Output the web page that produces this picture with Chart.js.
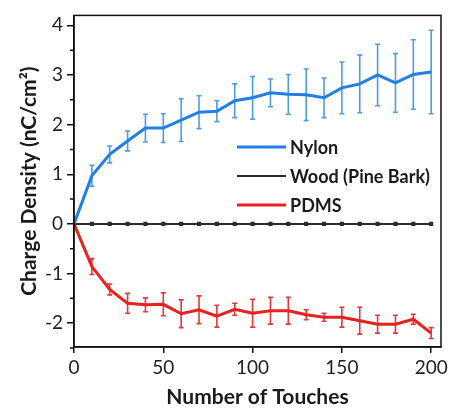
<!DOCTYPE html>
<html>
<head>
<meta charset="utf-8">
<script src="https://cdn.jsdelivr.net/npm/chart.js@4.4.0/dist/chart.umd.min.js"></script>
<style>
  body { margin: 0; background: #fff; }
  canvas { display: block; }
</style>
</head>
<body>
<canvas id="chargeChart" width="452" height="414"></canvas>
<script>
// DATA
const touches = [0, 10, 20, 30, 40, 50, 60, 70, 80, 90, 100, 110, 120, 130, 140, 150, 160, 170, 180, 190, 200];
const nylon = [0, 0.97, 1.40, 1.67, 1.93, 1.93, 2.09, 2.25, 2.27, 2.48, 2.54, 2.64, 2.61, 2.60, 2.54, 2.74, 2.82, 3.00, 2.84, 3.01, 3.06];
const nylonErr = [0, 0.21, 0.17, 0.20, 0.28, 0.29, 0.43, 0.33, 0.21, 0.34, 0.43, 0.28, 0.40, 0.52, 0.40, 0.52, 0.58, 0.62, 0.59, 0.70, 0.84];
const wood = [0, 0, 0, 0, 0, 0, 0, 0, 0, 0, 0, 0, 0, 0, 0, 0, 0, 0, 0, 0, 0];
const pdms = [0, -0.86, -1.32, -1.60, -1.63, -1.62, -1.81, -1.73, -1.86, -1.72, -1.80, -1.75, -1.75, -1.83, -1.88, -1.88, -1.95, -2.02, -2.02, -1.92, -2.20];
const pdmsErr = [0, 0.16, 0.11, 0.20, 0.14, 0.23, 0.28, 0.28, 0.22, 0.12, 0.28, 0.27, 0.27, 0.10, 0.08, 0.20, 0.27, 0.18, 0.18, 0.10, 0.11];
const xTicks = [0, 50, 100, 150, 200];
const yTicks = [-2, -1, 0, 1, 2, 3, 4];
const yMinorTicks = [-2.5, -1.5, -0.5, 0.5, 1.5, 2.5, 3.5];
const seriesNames = ['Nylon', 'Wood (Pine Bark)', 'PDMS'];

const toPoints = (vals) => vals.map((v, i) => ({x: touches[i], y: v}));

// ERROR BARS PLUGIN
const errorBars = {
  id: 'errorBars',
  beforeDatasetsDraw(chart) {
    const {ctx, scales: {x, y}} = chart;
    chart.data.datasets.forEach((ds) => {
      if (!ds.errors) return;
      ctx.save();
      ctx.strokeStyle = ds.errorColor;
      ctx.lineWidth = 1.6;
      ds.data.forEach((p, i) => {
        const e = ds.errors[i];
        if (!e) return;
        const px = x.getPixelForValue(p.x);
        const top = y.getPixelForValue(p.y + e);
        const bot = y.getPixelForValue(p.y - e);
        ctx.beginPath();
        ctx.moveTo(px, top); ctx.lineTo(px, bot);
        ctx.moveTo(px - 2.5, top); ctx.lineTo(px + 2.5, top);
        ctx.moveTo(px - 2.5, bot); ctx.lineTo(px + 2.5, bot);
        ctx.stroke();
      });
      ctx.restore();
    });
  }
};

// FRAME, MINOR TICKS AND LEGEND PLUGIN
const frameAndLegend = {
  id: 'frameAndLegend',
  afterDraw(chart) {
    const {ctx, chartArea: a, scales: {y}} = chart;
    ctx.save();
    ctx.strokeStyle = '#111';
    ctx.lineWidth = 1.5;
    ctx.strokeRect(a.left, a.top, a.right - a.left, a.bottom - a.top);
    ctx.beginPath();
    yMinorTicks.forEach(v => {
      const py = y.getPixelForValue(v);
      ctx.moveTo(a.left - 4, py); ctx.lineTo(a.left, py);
    });
    ctx.stroke();

    // legend inside the plot
    ctx.font = 'bold 18px Lato';
    ctx.textBaseline = 'middle';
    chart.data.datasets.forEach((ds, i) => {
      const ly = 147 + i * 29;
      ctx.strokeStyle = ds.borderColor;
      ctx.lineWidth = ds.borderWidth;
      ctx.beginPath();
      ctx.moveTo(237, ly); ctx.lineTo(286, ly);
      ctx.stroke();
      ctx.fillStyle = '#1a1a1a';
      ctx.fillText(ds.label, 290, ly + 1);
    });
    ctx.restore();
  }
};

const chart = new Chart(document.getElementById('chargeChart'), {
  type: 'line',
  data: {
    datasets: [
      {
        label: seriesNames[0],
        data: toPoints(nylon),
        errors: nylonErr,
        errorColor: '#4d9ceb',
        borderColor: '#1f7fe6',
        borderWidth: 3,
        pointRadius: 0,
        tension: 0
      },
      {
        label: seriesNames[1],
        data: toPoints(wood),
        borderColor: '#2b2b2b',
        backgroundColor: '#2b2b2b',
        borderWidth: 2,
        pointRadius: 1.5,
        pointStyle: 'rect',
        tension: 0
      },
      {
        label: seriesNames[2],
        data: toPoints(pdms),
        errors: pdmsErr,
        errorColor: '#e2383a',
        borderColor: '#e8201e',
        borderWidth: 3,
        pointRadius: 0,
        tension: 0
      }
    ]
  },
  options: {
    responsive: false,
    animation: false,
    layout: { padding: { top: 11, right: 11, left: 0, bottom: 0 } },
    plugins: { legend: { display: false }, tooltip: { enabled: false } },
    scales: {
      x: {
        type: 'linear',
        min: 0,
        max: 205.5,
        afterBuildTicks: (scale) => { scale.ticks = xTicks.map(v => ({value: v})); },
        afterFit: (scale) => { scale.height = 67; },
        grid: { drawOnChartArea: false, drawTicks: true, tickLength: 6, color: '#111', lineWidth: 1.5 },
        border: { display: true, color: '#111', width: 1.5 },
        ticks: { color: '#222', font: { family: 'Lato', size: 19 }, padding: 3, maxRotation: 0 },
        title: { display: true, text: 'Number of Touches', color: '#1a1a1a',
                 font: { family: 'Lato', size: 21, weight: 'bold' }, padding: { bottom: 4 } }
      },
      y: {
        min: -2.48,
        max: 4.2,
        afterBuildTicks: (scale) => { scale.ticks = yTicks.map(v => ({value: v})); },
        afterFit: (scale) => { scale.width = 74; },
        grid: { drawOnChartArea: false, drawTicks: true, tickLength: 7, color: '#111', lineWidth: 1.5 },
        border: { display: true, color: '#111', width: 1.5 },
        ticks: { color: '#222', font: { family: 'Lato', size: 19 }, padding: 4 },
        title: { display: true, text: 'Charge Density (nC/cm²)', color: '#1a1a1a',
                 font: { family: 'Lato', size: 21, weight: 'bold' }, padding: { top: 17 } }
      }
    }
  },
  plugins: [errorBars, frameAndLegend]
});
</script>
</body>
</html>
